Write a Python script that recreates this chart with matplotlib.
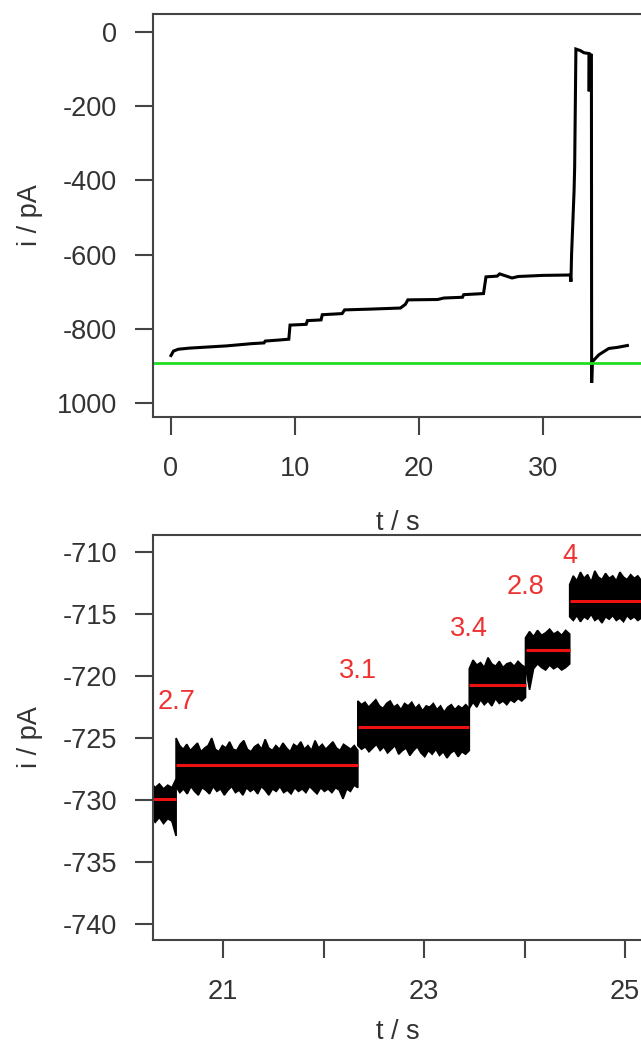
import numpy as np
import matplotlib.pyplot as plt

plt.rcParams['font.family'] = ['Liberation Sans', 'DejaVu Sans']
plt.rcParams['axes.unicode_minus'] = False

# full recording: time (s) and current (pA)
t_full = [0.0, 0.2, 0.6, 1.5, 2.5, 3.5, 4.5, 5.5, 6.5, 7.5, 7.6, 8.8, 9.5, 9.6,
          10.9, 11.0, 12.1, 12.2, 13.8, 14.0, 16.0, 18.5, 18.9, 19.1, 21.5, 22.0,
          23.5, 23.6, 25.2, 25.4, 26.3, 26.5, 27.5, 28.0, 30.0, 32.2, 32.25, 32.3,
          32.5, 32.55, 32.65, 33.0, 33.3, 33.7, 33.72, 33.75, 33.9, 33.92, 33.97,
          34.5, 35.3, 36.0, 36.8]
i_full = [-872, -860, -855, -852, -850, -848, -846, -843, -840, -838, -833, -830,
          -828, -790, -788, -778, -776, -762, -759, -749, -747, -744, -734, -722,
          -721, -717, -715, -708, -705, -660, -658, -652, -663, -659, -656, -655,
          -673, -600, -430, -364, -46, -50, -56, -58, -160, -60, -62, -946, -889,
          -870, -853, -850, -845]
baseline = -892

# zoomed section: step times, start level and step heights (pA)
step_t = [20.28, 20.53, 22.34, 23.45, 24.01, 24.45, 25.2]
start_level = -729.9
step_size = [2.7, 3.1, 3.4, 2.8, 4.0]

# noise envelope of the trace on each level (pA)
upper = [
    [-728.6, -729.0, -728.7, -729.1, -728.8, -729.0, -728.3],
    [-725.0, -725.6, -725.9, -725.5, -726.0, -725.7, -725.4, -726.1, -725.8, -725.6,
     -725.0, -725.9, -726.1, -725.6, -725.8, -725.3, -725.9, -726.0, -725.5, -725.2,
     -725.9, -726.1, -725.7, -725.5, -725.9, -725.1, -725.8, -726.0, -725.6, -725.9,
     -725.4, -725.8, -726.1, -725.5, -725.7, -725.3, -725.9, -725.6, -726.0, -725.2,
     -725.8, -725.5, -725.9, -725.6, -725.3, -725.8, -726.0, -725.5, -725.7, -725.9,
     -725.6, -726.0],
    [-722.0, -722.3, -722.1, -722.5, -722.2, -721.9, -722.4, -722.6, -722.2, -722.0,
     -722.5, -722.3, -722.7, -722.2, -722.4, -722.1, -722.6, -722.3, -722.8, -722.4,
     -722.5, -722.2, -722.7, -722.4, -722.9, -722.5, -722.3, -722.7, -722.4, -722.6,
     -722.3, -722.6],
    [-719.4, -718.7, -719.1, -718.9, -719.3, -718.5, -719.0, -719.2, -718.8, -719.3,
     -719.0, -718.9, -719.2, -718.8, -719.1, -719.3],
    [-716.9, -716.4, -716.8, -716.3, -716.7, -716.5, -716.2, -716.6, -716.4, -716.7,
     -716.3, -716.6],
    [-712.6, -711.9, -712.3, -711.6, -712.1, -711.8, -712.4, -711.5, -712.0, -712.2,
     -711.7, -712.1, -711.9, -712.3, -711.6, -712.0, -712.2, -711.8, -712.1, -711.9,
     -712.3, -712.0],
]
lower = [
    [-731.3, -731.8, -731.4, -731.9, -731.5, -731.7, -732.9],
    [-728.9, -729.4, -729.1, -729.5, -728.9, -729.3, -729.6, -729.0, -729.2, -729.5,
     -728.9, -729.3, -729.1, -729.6, -729.2, -728.9, -729.4, -729.2, -729.6, -729.0,
     -729.3, -729.1, -729.5, -728.9, -729.2, -729.6, -729.1, -729.3, -728.9, -729.4,
     -729.2, -729.5, -729.0, -729.3, -729.1, -729.4, -728.9, -729.2, -729.5, -729.0,
     -729.3, -729.1, -729.4, -729.0, -729.2, -729.9, -729.1, -729.3, -728.8, -729.0],
    [-725.6, -725.9, -725.7, -726.1, -725.8, -725.5, -726.0, -725.7, -726.2, -725.9,
     -725.6, -726.3, -726.0, -725.8, -726.4, -726.0, -725.7, -726.2, -726.5, -726.0,
     -726.3, -725.9, -726.4, -726.1, -726.6, -726.2, -726.0, -726.5, -726.1, -726.3,
     -726.0],
    [-722.6, -722.1, -722.5, -721.9, -722.3, -722.0, -722.4, -721.8, -722.2, -722.0,
     -722.3, -721.9, -722.1, -721.8, -722.0, -721.7],
    [-719.2, -721.1, -719.4, -719.0, -719.3, -719.5, -719.1, -719.4, -719.2, -719.5,
     -719.3, -719.0],
    [-715.2, -715.5, -715.1, -715.6, -715.2, -715.4, -715.0, -715.5, -715.3, -715.7,
     -715.2, -715.4, -715.1, -715.5, -715.3, -715.6, -715.1, -715.4, -715.2, -715.5,
     -715.3, -715.4],
]

levels = start_level + np.concatenate([[0], np.cumsum(step_size)])
label_dy = [5.1, 4.5, 4.5, 5.1, 3.6]   # height of each step label above its level

axcol = '#444444'
txtcol = '#333333'
fs = 19.5

fig = plt.figure(figsize=(6.41, 10.44), dpi=100)
ax1 = fig.add_axes([153/641, 1 - 417/1044, 490/641, 403/1044])
ax2 = fig.add_axes([153/641, 1 - 940/1044, 490/641, 405/1044])

for ax in (ax1, ax2):
    for s in ax.spines.values():
        s.set_color(axcol)
        s.set_linewidth(1.5)
    ax.tick_params(direction='out', length=13, width=1.5, color=axcol,
                   labelsize=fs, labelcolor=txtcol, pad=13)
    ax.tick_params(axis='x', pad=15)

# top: whole trace
ax1.plot(t_full, i_full, color='black', lw=2.2, solid_joinstyle='miter')
ax1.axhline(baseline, color='#22dd22', lw=2.0)
ax1.set_xlim(-1.45, 38.06)
ax1.set_ylim(-1037.7, 48.5)
ax1.set_xticks([0, 10, 20, 30])
ax1.set_yticks([0, -200, -400, -600, -800, -1000],
               ['0', '-200', '-400', '-600', '-800', '1000'])

# bottom: zoom on the steps
for k in range(len(levels)):
    tu = np.linspace(step_t[k], step_t[k + 1], len(upper[k]))
    tl = np.linspace(step_t[k], step_t[k + 1], len(lower[k]))
    ax2.fill(np.r_[tu, tl[::-1]], np.r_[upper[k], lower[k][::-1]],
             facecolor='black', edgecolor='black', lw=1.2)
for k in range(len(levels)):
    ax2.hlines(levels[k], step_t[k], step_t[k + 1], color='#ee1111', lw=2.2)
for k, d in enumerate(step_size):
    ax2.text(step_t[k + 1], levels[k + 1] + label_dy[k], f'{d:g}', color='#ee3333',
             fontsize=fs, ha='center', va='center')
ax2.set_xlim(20.30, 25.18)
ax2.set_ylim(-741.3, -708.6)
ax2.set_xticks([21, 22, 23, 24, 25], ['21', '', '23', '', '25'])
ax2.set_yticks([-710, -715, -720, -725, -730, -735, -740])

for ax in (ax1, ax2):
    ax.set_xlabel('t / s', fontsize=fs, color=txtcol, va='center')
    ax.set_ylabel('i / pA', fontsize=fs, color=txtcol, va='center')
    ax.yaxis.set_label_coords(-0.251, 0.5)
ax1.xaxis.set_label_coords(0.5, -0.263)
ax2.xaxis.set_label_coords(0.5, -0.227)

fig.savefig('out.png', dpi=100)
